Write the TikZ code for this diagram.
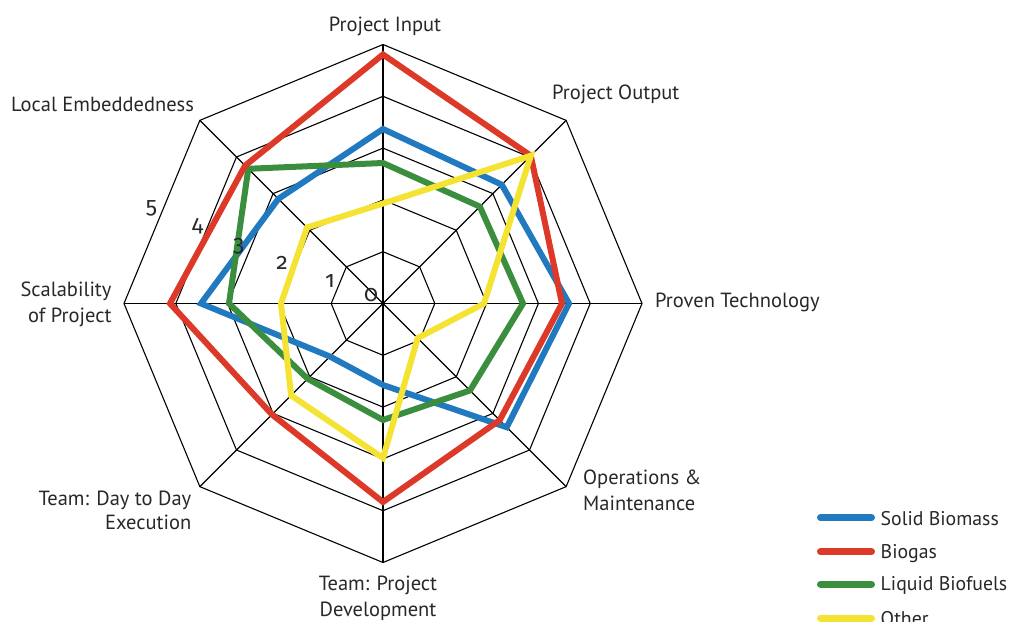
\documentclass[tikz,border=0pt]{standalone}
\usepackage{fontspec}
\setmainfont{PT Sans}
\newfontfamily\numfont[Numbers=OldStyle]{Fira Sans}
\definecolor{sbblue}{RGB}{33,121,192}
\definecolor{bgred}{RGB}{220,57,40}
\definecolor{lbgreen}{RGB}{58,142,62}
\definecolor{otyellow}{RGB}{245,227,52}
\definecolor{txt}{RGB}{40,40,40}
\begin{document}
\begin{tikzpicture}[x=1pt,y=1pt,
  gridline/.style={black, line width=1.1pt},
  series/.style={line width=6pt, line join=miter},
  lab/.style={font=\fontsize{20.5}{26}\selectfont, inner sep=0pt, text=txt},
  leglab/.style={font=\fontsize{19.8}{26}\selectfont, inner sep=0pt, text=txt},
  numlab/.style={font=\numfont\fontsize{23}{25}\selectfont, inner sep=0pt, text=txt},
  legline/.style={line width=7pt, line cap=round}]
\clip (0,0) rectangle (1011,-621);
\useasboundingbox (0,0) rectangle (1011,-621);
\begin{scope}[shift={(383,-303.5)}]
  \foreach \r in {51.8,103.6,155.4,207.2,259}{
    \draw[gridline] (90:\r)--(45:\r)--(0:\r)--(-45:\r)--(-90:\r)--(-135:\r)--(180:\r)--(135:\r)--cycle;}
  \foreach \a in {0,45,...,315}{\draw[gridline] (0,0) -- (\a:259);}
  % Solid Biomass
  \draw[series, sbblue] (90:174.5)--(45:168)--(0:186)--(-45:175)--(-90:81.5)--(-135:75)--(180:182)--(135:148)--cycle;
  % Liquid Biofuels
  \draw[series, lbgreen] (90:140.5)--(45:137)--(0:140)--(-45:123)--(-90:116.5)--(-135:106.5)--(180:154)--(135:190.5)--cycle;
  % Biogas
  \draw[series, bgred] (90:249)--(45:209)--(0:179)--(-45:165)--(-90:198.5)--(-135:157)--(180:213)--(135:195)--cycle;
  % Other
  \draw[series, otyellow] (90:100)--(45:209)--(0:101)--(-45:49)--(-90:154.5)--(-135:130)--(180:102)--(135:107.5)--cycle;
\end{scope}
% scale numbers
\node[numlab] (n5) at (151.5,-208) {5};
\node[numlab] (n4) at (197.5,-225.7) {4};
\node[numlab] (n3) at (238.7,-246) {3};
\node[numlab] (n2) at (282,-263) {2};
\node[numlab] (n1) at (330,-281) {1};
\node[numlab] (n0) at (371,-295) {0};
% axis labels
\node[lab, anchor=base] (pin) at (385,-31.5) {Project Input};
\node[lab, anchor=base west] (pout) at (552,-99.3) {Project Output};
\node[lab, anchor=base west] (ptec) at (655,-307.7) {Proven Technology};
\node[lab, anchor=base west] (om1) at (583,-484) {Operations \&};
\node[lab, anchor=base west] (om2) at (583,-510) {Maintenance};
\node[lab, anchor=base] (pd1) at (378,-590) {Team: Project};
\node[lab, anchor=base] (pd2) at (378,-616) {Development};
\node[lab, anchor=base east] (dd1) at (191.5,-505) {Team: Day to Day};
\node[lab, anchor=base east] (dd2) at (191.5,-529.5) {Execution};
\node[lab, anchor=base east] (sc1) at (111.7,-296.5) {Scalability};
\node[lab, anchor=base east] (sc2) at (111.7,-322.7) {of Project};
\node[lab, anchor=base west] (le) at (11,-111.7) {Local Embeddedness};
% legend
\coordinate (l1a) at (820.5,-517.7); \coordinate (l1b) at (871.5,-517.7);
\coordinate (l2a) at (820.5,-551.7); \coordinate (l2b) at (871.5,-551.7);
\coordinate (l3a) at (820.5,-584); \coordinate (l3b) at (871.5,-584);
\coordinate (l4a) at (820.5,-618); \coordinate (l4b) at (871.5,-618);
\draw[legline, sbblue] (l1a) -- (l1b);
\draw[legline, bgred] (l2a) -- (l2b);
\draw[legline, lbgreen] (l3a) -- (l3b);
\draw[legline, otyellow] (l4a) -- (l4b);
\node[leglab, anchor=base west] (t1) at (880.5,-525) {Solid Biomass};
\node[leglab, anchor=base west] (t2) at (880.5,-558.3) {Biogas};
\node[leglab, anchor=base west] (t3) at (880.5,-590.7) {Liquid Biofuels};
\node[leglab, anchor=base west] (t4) at (880.5,-625) {Other};
\end{tikzpicture}
\end{document}
